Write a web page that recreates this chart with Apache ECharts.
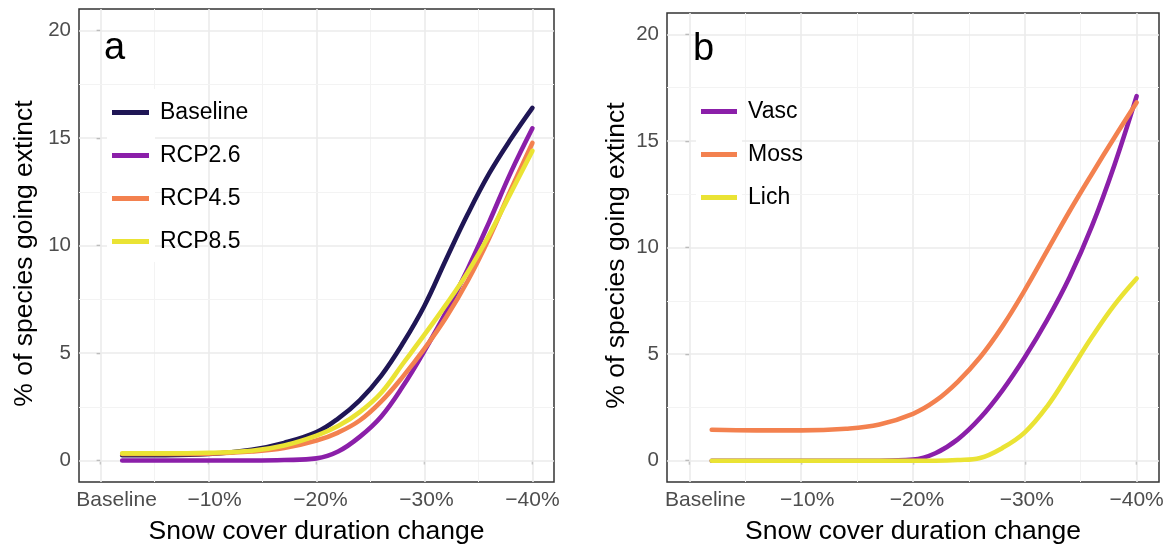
<!DOCTYPE html>
<html>
<head>
<meta charset="utf-8">
<title>Species going extinct vs snow cover duration change</title>
<script src="https://cdn.jsdelivr.net/npm/echarts@6/dist/echarts.min.js"></script>
<style>
    html, body { margin: 0; padding: 0; background: #fff; }
    #main { width: 1173px; height: 551px; }
</style>
</head>
<body>
<div id="main"></div>
<script>
// snow cover duration change (% reduction from baseline)
var snowChange = [2, 6, 10, 14, 17, 20, 22, 24, 26, 28, 30, 32, 34, 36, 38, 40];

// panel a - climate scenarios (% of species going extinct)
var baseline = [0.25, 0.25, 0.3, 0.5, 0.82, 1.32, 1.95, 2.8, 3.95, 5.45, 7.2, 9.35, 11.45, 13.35, 14.95, 16.4];
var rcp26 = [0, 0, 0, 0, 0.02, 0.1, 0.42, 1.1, 2.05, 3.45, 5.1, 6.9, 8.9, 11.1, 13.4, 15.45];
var rcp45 = [0.3, 0.3, 0.32, 0.42, 0.58, 0.93, 1.3, 1.86, 2.75, 3.9, 5.2, 6.65, 8.35, 10.35, 12.6, 14.77];
var rcp85 = [0.33, 0.33, 0.36, 0.45, 0.7, 1.16, 1.6, 2.25, 3.15, 4.5, 5.85, 7.25, 8.75, 10.5, 12.45, 14.4];

// panel b - species groups
var vasc = [0, 0, 0, 0, 0, 0.05, 0.35, 1.0, 2.0, 3.3, 4.85, 6.6, 8.6, 11.0, 13.85, 17.1];
var moss = [1.45, 1.42, 1.42, 1.5, 1.7, 2.2, 2.8, 3.7, 4.85, 6.3, 8.0, 9.85, 11.7, 13.45, 15.15, 16.8];
var lich = [0, 0, 0, 0, 0, 0, 0, 0.03, 0.13, 0.6, 1.33, 2.55, 4.15, 5.8, 7.3, 8.55];

// axes
var xTicks = [0, 10, 20, 30, 40];
var xTickLabels = ['Baseline', '\u221210%', '\u221220%', '\u221230%', '\u221240%'];
var xMinor = [5, 15, 25, 35];
var yTicks = [0, 5, 10, 15, 20];
var yMinor = [2.5, 7.5, 12.5, 17.5];

var FONT = "'Liberation Sans', Arial, sans-serif";
var COL = {navy: '#1f1655', purple: '#8b1fa9', orange: '#f3814f', yellow: '#eae334'};
// the source labels sit a little right of their ticks (more so on the left)
var labelNudge = [32, 12, 8, 4, 0];

function pairs(ys) {
    return snowChange.map(function (x, i) { return [x, ys[i]]; });
}

function xAxisFor(gi) {
    var rich = {};
    labelNudge.forEach(function (p, i) {
        rich['l' + i] = {color: '#4d4d4d', fontSize: 21, fontFamily: FONT, padding: [0, 0, 0, p]};
    });
    return {
        type: 'value', gridIndex: gi, min: -2, max: 42,
        axisLine: {show: false},
        axisTick: {show: true, customValues: xTicks, length: 4, lineStyle: {color: '#333', width: 1.2}},
        axisLabel: {
            customValues: xTicks,
            formatter: function (v) {
                var i = xTicks.indexOf(v);
                return '{l' + i + '|' + xTickLabels[i] + '}';
            },
            rich: rich,
            color: '#4d4d4d', fontSize: 21, fontFamily: FONT, margin: 8
        },
        splitLine: {show: false},
        name: 'Snow cover duration change', nameLocation: 'middle', nameGap: 36,
        nameTextStyle: {fontSize: 26.5, color: '#000', fontFamily: FONT}
    };
}

function yAxisFor(gi, gap) {
    return {
        type: 'value', gridIndex: gi, min: -1, max: 21,
        axisLine: {show: false},
        axisTick: {show: true, customValues: yTicks, length: 4, lineStyle: {color: '#333', width: 1.2}},
        axisLabel: {customValues: yTicks, color: '#4d4d4d', fontSize: 20.5, fontFamily: FONT, margin: 8},
        splitLine: {show: false},
        name: '% of species going extinct', nameLocation: 'middle', nameGap: gap,
        nameTextStyle: {fontSize: 26.5, color: '#000', fontFamily: FONT, padding: [0, 16, 0, 0]}
    };
}

// background grid drawn through the axis scales
function gridSeries(gi) {
    var lines = [];
    xTicks.forEach(function (v) { lines.push({xAxis: v, lineStyle: {color: '#ebebeb', width: 1.6, type: 'solid'}}); });
    xMinor.forEach(function (v) { lines.push({xAxis: v, lineStyle: {color: '#f3f3f3', width: 1, type: 'solid'}}); });
    yTicks.forEach(function (v) { lines.push({yAxis: v, lineStyle: {color: '#ebebeb', width: 1.6, type: 'solid'}}); });
    yMinor.forEach(function (v) { lines.push({yAxis: v, lineStyle: {color: '#f3f3f3', width: 1, type: 'solid'}}); });
    return {
        type: 'line', xAxisIndex: gi, yAxisIndex: gi, data: [], silent: true, z: 1,
        markLine: {
            silent: true, z: 1, symbol: ['none', 'none'], label: {show: false}, animation: false,
            lineStyle: {type: 'solid'}, emphasis: {disabled: true}, data: lines
        }
    };
}

function curve(name, gi, ys, color) {
    return {
        name: name, type: 'line', xAxisIndex: gi, yAxisIndex: gi, z: 3,
        data: pairs(ys), smooth: 0.4, showSymbol: false, symbol: 'none',
        lineStyle: {width: 4.6, color: color, cap: 'round'}, itemStyle: {color: color}
    };
}

function legendFor(names, left, top, w) {
    return {
        data: names, orient: 'vertical', left: left, top: top, padding: 0,
        itemWidth: w, itemHeight: 5, itemGap: 20, icon: 'rect',
        textStyle: {fontSize: 23, color: '#000', fontFamily: FONT, padding: [0, 0, 0, 6]}
    };
}

var chart = echarts.init(document.getElementById('main'), null, {renderer: 'canvas'});
chart.setOption({
    animation: false,
    backgroundColor: '#fff',
    title: [
        {text: 'a', left: 104, top: 30, padding: 0, textStyle: {fontSize: 38, fontWeight: 'normal', color: '#000', fontFamily: FONT}},
        {text: 'b', left: 693, top: 31, padding: 0, textStyle: {fontSize: 38, fontWeight: 'normal', color: '#000', fontFamily: FONT}}
    ],
    grid: [
        {left: 79, top: 9, width: 475, height: 473, show: true, borderColor: '#333', borderWidth: 1.5, backgroundColor: '#fff'},
        {left: 667, top: 13, width: 492, height: 469, show: true, borderColor: '#333', borderWidth: 1.5, backgroundColor: '#fff'}
    ],
    xAxis: [xAxisFor(0), xAxisFor(1)],
    yAxis: [yAxisFor(0, 41), yAxisFor(1, 37)],
    legend: [
        legendFor(['Baseline', 'RCP2.6', 'RCP4.5', 'RCP8.5'], 112, 101, 37),
        legendFor(['Vasc', 'Moss', 'Lich'], 701, 100, 36)
    ],
    graphic: [
        {type: 'rect', z: 2, shape: {x: 107, y: 89, width: 48, height: 173}, style: {fill: '#fff'}},
        {type: 'rect', z: 2, shape: {x: 696, y: 88, width: 46, height: 131}, style: {fill: '#fff'}}
    ],
    series: [
        gridSeries(0),
        gridSeries(1),
        curve('Baseline', 0, baseline, COL.navy),
        curve('RCP2.6', 0, rcp26, COL.purple),
        curve('RCP4.5', 0, rcp45, COL.orange),
        curve('RCP8.5', 0, rcp85, COL.yellow),
        curve('Vasc', 1, vasc, COL.purple),
        curve('Moss', 1, moss, COL.orange),
        curve('Lich', 1, lich, COL.yellow)
    ]
});
</script>
</body>
</html>
